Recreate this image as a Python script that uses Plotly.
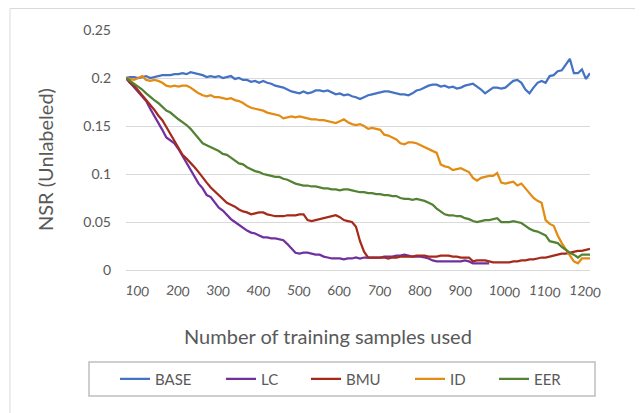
import plotly.graph_objects as go

# ---------------- data ----------------
samples = list(range(100, 1251, 10))
samples_lc = list(range(100, 1001, 10))

base = [0.200, 0.201, 0.201, 0.200, 0.201, 0.202, 0.200, 0.201, 0.202, 0.203,
        0.203, 0.203, 0.204, 0.204, 0.205, 0.204, 0.206, 0.205, 0.204, 0.203,
        0.201, 0.202, 0.201, 0.202, 0.200, 0.201, 0.202, 0.199, 0.200, 0.198,
        0.198, 0.196, 0.197, 0.195, 0.197, 0.195, 0.194, 0.192, 0.191, 0.190,
        0.188, 0.186, 0.185, 0.184, 0.186, 0.184, 0.185, 0.187, 0.187, 0.186,
        0.187, 0.185, 0.183, 0.184, 0.182, 0.183, 0.181, 0.180, 0.178, 0.180,
        0.182, 0.183, 0.184, 0.185, 0.186, 0.186, 0.185, 0.184, 0.183, 0.183,
        0.182, 0.184, 0.187, 0.188, 0.190, 0.192, 0.193, 0.193, 0.191, 0.192,
        0.190, 0.191, 0.189, 0.190, 0.192, 0.193, 0.194, 0.191, 0.188, 0.184,
        0.187, 0.190, 0.190, 0.189, 0.190, 0.194, 0.197, 0.198, 0.195, 0.188,
        0.184, 0.190, 0.195, 0.197, 0.195, 0.202, 0.203, 0.207, 0.208, 0.214,
        0.220, 0.205, 0.205, 0.209, 0.199, 0.205]

lc = [0.200, 0.195, 0.190, 0.186, 0.181, 0.176, 0.168, 0.161, 0.153, 0.146,
      0.138, 0.135, 0.132, 0.126, 0.119, 0.112, 0.104, 0.097, 0.090, 0.085,
      0.078, 0.076, 0.070, 0.065, 0.062, 0.057, 0.053, 0.050, 0.047, 0.044,
      0.041, 0.039, 0.038, 0.036, 0.034, 0.034, 0.033, 0.033, 0.032, 0.031,
      0.027, 0.023, 0.018, 0.017, 0.018, 0.018, 0.017, 0.016, 0.016, 0.014,
      0.013, 0.012, 0.012, 0.012, 0.011, 0.012, 0.012, 0.013, 0.012, 0.013,
      0.013, 0.013, 0.013, 0.013, 0.014, 0.014, 0.014, 0.015, 0.015, 0.016,
      0.015, 0.014, 0.014, 0.014, 0.013, 0.012, 0.010, 0.009, 0.009, 0.009,
      0.009, 0.009, 0.009, 0.009, 0.010, 0.009, 0.007, 0.007, 0.007, 0.007,
      0.007]

bmu = [0.200, 0.195, 0.192, 0.187, 0.183, 0.178, 0.172, 0.167, 0.161, 0.156,
       0.149, 0.142, 0.135, 0.127, 0.120, 0.116, 0.112, 0.107, 0.102, 0.096,
       0.091, 0.086, 0.082, 0.078, 0.074, 0.070, 0.068, 0.066, 0.063, 0.061,
       0.060, 0.058, 0.059, 0.060, 0.060, 0.058, 0.057, 0.056, 0.056, 0.056,
       0.057, 0.057, 0.057, 0.058, 0.058, 0.052, 0.051, 0.052, 0.053, 0.054,
       0.055, 0.056, 0.057, 0.055, 0.052, 0.051, 0.050, 0.045, 0.030, 0.019,
       0.013, 0.013, 0.013, 0.013, 0.013, 0.012, 0.013, 0.013, 0.014, 0.014,
       0.014, 0.014, 0.015, 0.015, 0.015, 0.014, 0.014, 0.014, 0.015, 0.015,
       0.015, 0.014, 0.014, 0.013, 0.013, 0.013, 0.009, 0.010, 0.010, 0.010,
       0.009, 0.008, 0.008, 0.008, 0.008, 0.008, 0.009, 0.009, 0.010, 0.010,
       0.011, 0.011, 0.012, 0.013, 0.013, 0.014, 0.015, 0.016, 0.017, 0.017,
       0.018, 0.019, 0.020, 0.020, 0.021, 0.022]

id_ = [0.200, 0.199, 0.198, 0.200, 0.202, 0.198, 0.197, 0.198, 0.197, 0.195,
       0.192, 0.191, 0.192, 0.191, 0.192, 0.192, 0.190, 0.187, 0.184, 0.182,
       0.181, 0.182, 0.180, 0.180, 0.179, 0.178, 0.179, 0.177, 0.176, 0.174,
       0.171, 0.169, 0.168, 0.167, 0.166, 0.164, 0.163, 0.162, 0.161, 0.158,
       0.159, 0.160, 0.159, 0.160, 0.159, 0.158, 0.157, 0.157, 0.156, 0.156,
       0.155, 0.154, 0.153, 0.155, 0.157, 0.154, 0.152, 0.151, 0.152, 0.150,
       0.147, 0.148, 0.147, 0.146, 0.141, 0.140, 0.138, 0.136, 0.132, 0.131,
       0.133, 0.133, 0.132, 0.130, 0.128, 0.126, 0.124, 0.122, 0.110, 0.108,
       0.107, 0.104, 0.105, 0.106, 0.104, 0.102, 0.096, 0.093, 0.096, 0.097,
       0.098, 0.098, 0.101, 0.091, 0.090, 0.091, 0.092, 0.088, 0.090, 0.085,
       0.080, 0.075, 0.072, 0.070, 0.052, 0.048, 0.046, 0.036, 0.028, 0.022,
       0.016, 0.009, 0.007, 0.012, 0.012, 0.012]

eer = [0.200, 0.197, 0.194, 0.191, 0.188, 0.184, 0.180, 0.177, 0.174, 0.170,
       0.166, 0.164, 0.160, 0.157, 0.154, 0.151, 0.147, 0.142, 0.137, 0.132,
       0.130, 0.128, 0.126, 0.124, 0.121, 0.120, 0.117, 0.114, 0.111, 0.110,
       0.107, 0.105, 0.103, 0.102, 0.100, 0.099, 0.098, 0.097, 0.097, 0.095,
       0.094, 0.092, 0.090, 0.089, 0.088, 0.088, 0.087, 0.087, 0.086, 0.085,
       0.085, 0.084, 0.084, 0.083, 0.084, 0.084, 0.083, 0.082, 0.081, 0.081,
       0.080, 0.080, 0.079, 0.079, 0.078, 0.078, 0.077, 0.077, 0.075, 0.074,
       0.074, 0.073, 0.074, 0.073, 0.072, 0.070, 0.068, 0.064, 0.061, 0.058,
       0.057, 0.057, 0.056, 0.056, 0.054, 0.053, 0.051, 0.050, 0.051, 0.052,
       0.052, 0.053, 0.054, 0.050, 0.050, 0.050, 0.051, 0.050, 0.049, 0.046,
       0.043, 0.041, 0.040, 0.038, 0.036, 0.030, 0.029, 0.028, 0.024, 0.021,
       0.018, 0.016, 0.013, 0.016, 0.016, 0.016]

tick_vals = [100, 200, 300, 400, 500, 600, 700, 800, 900, 1000, 1100, 1200]
tick_text = ["100", "200", "300", "400", "500", "600", "700", "800", "900", "1000", "1100", "1200"]
y_ticks = [0, 0.05, 0.1, 0.15, 0.2, 0.25]

series = [
    ("BASE", samples, base, "#4472C4", "legend"),
    ("LC", samples_lc, lc, "#7030A0", "legend2"),
    ("BMU", samples, bmu, "#A52A1A", "legend3"),
    ("ID", samples, id_, "#E38B12", "legend4"),
    ("EER", samples, eer, "#548235", "legend5"),
]

FONT = "Lato, 'Open Sans', sans-serif"
GRAY = "#595959"

fig = go.Figure()
for name, xs, ys, color, lg in series:
    fig.add_trace(go.Scatter(x=xs, y=ys, name=name, mode="lines",
                             line=dict(color=color, width=2.25),
                             legend=lg))

# page offset of the figure (default body margin)
OFF = 8
# pixel geometry of plot area (page coords minus offset)
L, R, T, B = 126 - OFF, 590 - OFF, 30 - OFF, 270 - OFF
W, H = R - L, B - T

def px(xp):
    return (xp - OFF - L) / W

def py(yp):
    return (B - (yp - OFF)) / H

legend_common = dict(orientation="h", bgcolor="rgba(0,0,0,0)", borderwidth=0,
                     xanchor="left", yanchor="middle",
                     font=dict(family=FONT, size=15, color=GRAY))
leg_x = [115, 221, 306, 410, 494]
legends = {}
for i, key in enumerate(["legend", "legend2", "legend3", "legend4", "legend5"]):
    legends[key] = dict(legend_common, x=px(leg_x[i]), y=py(379))

fig.update_layout(
    width=643, height=413,
    margin=dict(l=L, r=643 - R, t=T, b=413 - B, autoexpand=False),
    paper_bgcolor="white", plot_bgcolor="white",
    font=dict(family=FONT, color=GRAY),
    showlegend=True,
    xaxis=dict(range=[100, 1250], tickvals=tick_vals, ticktext=tick_text,
               tickangle=6, showgrid=False, zeroline=False, showline=False,
               tickfont=dict(family=FONT, size=13.5, color=GRAY),
               ticklabelstandoff=10),
    yaxis=dict(range=[0, 0.25], tickvals=y_ticks, tickformat="",
               showgrid=True, gridcolor="#D9D9D9", gridwidth=1,
               zeroline=True, zerolinecolor="#D9D9D9", zerolinewidth=1,
               showline=False,
               tickfont=dict(family=FONT, size=14, color=GRAY),
               ticklabelstandoff=14),
    shapes=[
        dict(type="rect", xref="paper", yref="paper",
             x0=px(89), x1=px(595), y0=py(396), y1=py(362),
             line=dict(color="#BFBFBF", width=1.5), fillcolor="rgba(0,0,0,0)", layer="below"),
        dict(type="rect", xref="paper", yref="paper",
             x0=px(10), x1=px(639), y0=py(440), y1=py(8.5),
             line=dict(color="#D9D9D9", width=1), fillcolor="rgba(0,0,0,0)", layer="below"),
    ],
    annotations=[
        dict(text="NSR (Unlabeled)", xref="paper", yref="paper",
             x=px(45), y=py(160), textangle=-90, showarrow=False,
             xanchor="center", yanchor="middle",
             font=dict(family=FONT, size=20, color=GRAY)),
        dict(text="Number of training samples used", xref="paper", yref="paper",
             x=px(328), y=py(336), showarrow=False,
             xanchor="center", yanchor="middle",
             font=dict(family=FONT, size=20, color=GRAY)),
    ],
    **legends,
)

fig.write_html("out.html")
